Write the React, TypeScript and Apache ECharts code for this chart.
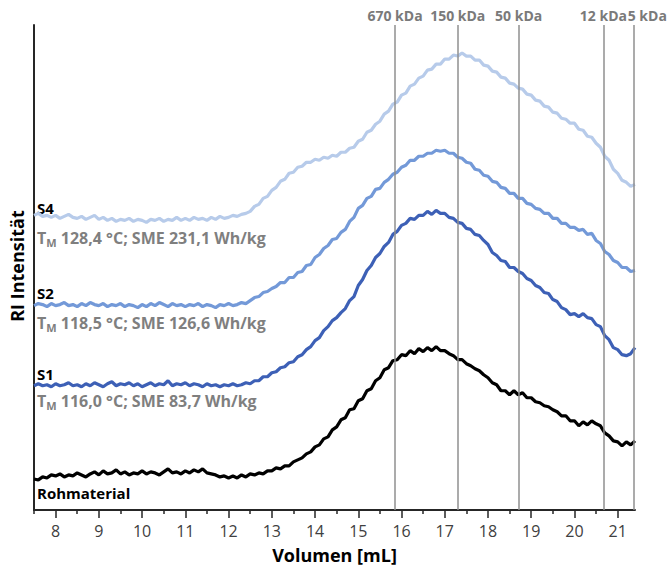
import { useEffect, useRef } from "react";
import * as echarts from "echarts";

// Elution volume grid of the detector traces (mL)
const VOLUME_START = 7.5;
const VOLUME_STEP = 0.1;

// RI detector signal (arbitrary units, traces stacked with offsets), one row = 1 mL
const ROHMATERIAL = [
  3.1, 3.0, 3.3, 3.2, 3.5, 3.4, 3.6, 3.3, 3.5, 3.4,
  3.7, 3.5, 3.3, 3.6, 3.8, 3.5, 3.9, 3.6, 3.7, 4.0,
  3.6, 3.8, 3.5, 3.7, 3.6, 3.9, 3.6, 3.8, 3.7, 3.5,
  3.8, 4.1, 3.7, 3.8, 3.6, 3.9, 3.7, 4.0, 3.8, 4.1,
  3.7, 3.6, 3.5, 3.3, 3.4, 3.2, 3.4, 3.2, 3.5, 3.3,
  3.6, 3.5, 3.7, 3.6, 3.9, 3.9, 4.2, 4.1, 4.4, 4.4,
  4.8, 5.0, 5.2, 5.6, 5.8, 6.3, 6.5, 7.1, 7.3, 8.0,
  8.3, 9.0, 9.2, 10.0, 10.1, 10.9, 11.1, 11.9, 12.1, 12.9,
  13.2, 14.0, 14.2, 14.9, 15.0, 15.5, 15.4, 15.9, 15.6, 16.1,
  15.8, 16.2, 15.9, 16.3, 15.9, 15.9, 15.6, 15.4, 15.0, 15.0,
  14.6, 14.4, 14.1, 13.9, 13.5, 13.2, 12.7, 12.5, 11.9, 11.9,
  11.5, 11.9, 11.5, 11.7, 11.2, 11.2, 10.8, 10.7, 10.4, 10.3,
  10.0, 9.8, 9.4, 9.4, 8.9, 8.9, 8.4, 8.8, 8.5, 8.9,
  8.6, 8.4, 7.7, 7.4, 6.9, 6.8, 6.4, 6.8, 6.5, 6.9,
];

const S1 = [
  12.4, 12.6, 12.4, 12.5, 12.3, 12.6, 12.4, 12.5, 12.7, 12.4,
  12.5, 12.3, 12.6, 12.4, 12.7, 12.5, 12.3, 12.6, 12.8, 12.4,
  12.6, 12.5, 12.7, 12.4, 12.6, 12.3, 12.5, 12.7, 12.4, 12.6,
  12.5, 12.9, 12.4, 12.6, 12.5, 12.7, 12.4, 12.6, 12.5, 12.3,
  12.6, 12.4, 12.5, 12.3, 12.5, 12.4, 12.6, 12.4, 12.5, 12.7,
  12.6, 12.9, 12.9, 13.3, 13.3, 13.7, 13.8, 14.2, 14.3, 14.7,
  14.8, 15.3, 15.5, 16.0, 16.3, 16.9, 17.2, 17.9, 18.3, 18.9,
  19.2, 19.7, 20.1, 20.9, 21.3, 22.4, 23.0, 23.9, 24.4, 25.2,
  25.6, 26.3, 26.7, 27.5, 27.8, 28.4, 28.6, 29.1, 29.0, 29.4,
  29.4, 29.8, 29.5, 29.9, 29.6, 29.6, 29.2, 29.1, 28.7, 28.6,
  28.1, 28.0, 27.5, 27.4, 26.9, 26.5, 25.7, 25.4, 24.9, 24.8,
  24.2, 24.2, 23.8, 23.6, 23.1, 22.9, 22.4, 22.2, 21.7, 21.6,
  21.0, 20.8, 20.2, 20.0, 19.5, 19.6, 19.3, 19.6, 19.2, 19.1,
  18.5, 18.3, 17.4, 17.0, 16.2, 16.0, 15.5, 15.4, 15.6, 16.2,
];

const S2 = [
  20.4, 20.6, 20.5, 20.3, 20.6, 20.4, 20.5, 20.7, 20.4, 20.5,
  20.3, 20.6, 20.4, 20.7, 20.5, 20.4, 20.6, 20.3, 20.5, 20.4,
  20.6, 20.3, 20.5, 20.4, 20.2, 20.5, 20.3, 20.6, 20.4, 20.7,
  20.5, 20.3, 20.6, 20.4, 20.5, 20.3, 20.5, 20.4, 20.6, 20.3,
  20.5, 20.4, 20.2, 20.5, 20.4, 20.6, 20.4, 20.5, 20.7, 20.6,
  20.9, 21.2, 21.3, 21.7, 21.8, 22.1, 22.3, 22.7, 22.7, 23.2,
  23.2, 23.7, 23.8, 24.4, 24.5, 25.2, 25.5, 26.1, 26.4, 27.0,
  27.1, 27.7, 28.0, 28.8, 29.2, 30.1, 30.4, 31.1, 31.3, 32.0,
  32.1, 32.7, 33.0, 33.5, 33.7, 34.2, 34.4, 34.9, 34.9, 35.3,
  35.3, 35.6, 35.6, 35.9, 35.8, 35.9, 35.6, 35.6, 35.2, 35.1,
  34.7, 34.6, 34.0, 33.9, 33.4, 33.3, 32.8, 32.7, 32.2, 32.1,
  31.6, 31.6, 31.1, 31.1, 30.6, 30.5, 30.1, 30.0, 29.6, 29.6,
  29.1, 29.1, 28.6, 28.6, 28.2, 28.2, 27.9, 28.0, 27.5, 27.6,
  26.9, 26.6, 25.8, 25.5, 24.9, 24.7, 24.2, 24.2, 23.8, 23.9,
];

const S4 = [
  29.4, 29.6, 29.3, 29.4, 29.2, 29.4, 29.1, 29.3, 29.5, 29.2,
  29.1, 29.3, 29.0, 29.2, 29.4, 29.0, 29.2, 28.9, 29.1, 28.8,
  29.0, 28.9, 29.1, 28.8, 29.0, 28.9, 28.7, 29.0, 28.9, 29.1,
  28.8, 29.0, 28.9, 29.2, 28.9, 29.1, 28.9, 29.2, 29.0, 29.1,
  28.9, 29.2, 29.0, 29.3, 29.1, 29.2, 29.4, 29.3, 29.5, 29.6,
  29.8, 30.3, 30.5, 31.1, 31.3, 31.9, 32.2, 32.8, 33.0, 33.6,
  33.7, 34.2, 34.3, 34.7, 34.7, 35.0, 34.9, 35.2, 35.1, 35.4,
  35.3, 35.7, 35.7, 36.1, 36.2, 36.8, 37.0, 37.7, 37.9, 38.5,
  38.8, 39.5, 39.8, 40.5, 40.7, 41.4, 41.6, 42.3, 42.5, 43.1,
  43.3, 43.9, 44.0, 44.5, 44.5, 45.0, 45.0, 45.4, 45.3, 45.6,
  45.3, 45.3, 44.9, 44.9, 44.4, 44.3, 43.8, 43.7, 43.2, 43.1,
  42.6, 42.5, 42.1, 42.0, 41.5, 41.4, 40.9, 40.8, 40.3, 40.2,
  39.7, 39.6, 39.1, 39.0, 38.6, 38.6, 38.0, 37.9, 37.3, 37.2,
  36.6, 36.2, 35.3, 34.9, 34.0, 33.6, 32.9, 32.7, 32.3, 32.5,
];

// Calibration markers (elution volume of protein standards)
const MARKER_VOLUMES = [15.85, 17.3, 18.71, 20.67, 21.36];
const MARKER_LABELS = ["670 kDa", "150 kDa", "50 kDa", "12 kDa", "5 kDa"];

// Axis ticks
const MAJOR_TICKS = [8, 9, 10, 11, 12, 13, 14, 15, 16, 17, 18, 19, 20, 21];
const MINOR_TICKS = [7.5, 8.5, 9.5, 10.5, 11.5, 12.5, 13.5, 14.5, 15.5, 16.5, 17.5, 18.5, 19.5, 20.5];

// Trace names and extrusion conditions
const SAMPLE_NAMES = ["S4", "S2", "S1", "Rohmaterial"];
const MELT_TEMPS = ["128,4", "118,5", "116,0"];
const SME_VALUES = ["231,1", "126,6", "83,7"];

const COLORS = {
  Rohmaterial: "#000000",
  S1: "#3d60b6",
  S2: "#7399d8",
  S4: "#b7cbea",
};

const FONT = '"Open Sans", "Noto Sans", sans-serif';
const AXIS_COLOR = "#262626";

const VOLUMES = ROHMATERIAL.map((_, i) => +(VOLUME_START + i * VOLUME_STEP).toFixed(1));
const toPoints = (values: number[]) => values.map((v, i) => [VOLUMES[i], v]);

// label placement (px) for trace names and condition lines
const NAME_Y = [208, 293, 374, 493];
const COND_Y = [238, 323, 401];

export default function App() {
  const ref = useRef<HTMLDivElement>(null);

  useEffect(() => {
    if (!ref.current) return;
    document.body.style.margin = "0";
    const chart = echarts.init(ref.current, undefined, { renderer: "svg" });

    const traceSeries = [
      { name: "Rohmaterial", data: ROHMATERIAL },
      { name: "S1", data: S1 },
      { name: "S2", data: S2 },
      { name: "S4", data: S4 },
    ].map((s, idx) => ({
      type: "line",
      name: s.name,
      xAxisIndex: 0,
      yAxisIndex: 0,
      data: toPoints(s.data),
      showSymbol: false,
      symbol: "none",
      silent: true,
      z: 3,
      lineStyle: { color: (COLORS as any)[s.name], width: 3.2 },
      markLine:
        idx === 0
          ? {
              silent: true,
              symbol: ["none", "none"],
              z: 5,
              lineStyle: { color: "#8f8f8f", width: 1.5, type: "solid" },
              label: {
                show: true,
                position: "end",
                distance: 3,
                formatter: "{b}",
                color: "#7a7a7a",
                fontFamily: FONT,
                fontWeight: "bold",
                fontSize: 14,
              },
              data: MARKER_VOLUMES.map((v, i) => ({
                xAxis: v,
                name: MARKER_LABELS[i],
                label: i === MARKER_VOLUMES.length - 1 ? { offset: [14, 0] } : undefined,
              })),
            }
          : undefined,
    }));

    const graphics: any[] = [];
    SAMPLE_NAMES.forEach((name, i) => {
      graphics.push({
        type: "text",
        x: 37,
        y: NAME_Y[i],
        silent: true,
        style: {
          text: name,
          fill: "#000",
          font: `bold 15px ${FONT}`,
          verticalAlign: "middle",
        },
      });
    });
    MELT_TEMPS.forEach((tm, i) => {
      graphics.push({
        type: "text",
        x: 37,
        y: COND_Y[i],
        silent: true,
        style: {
          text: `{t|T}{m|M}{t| ${tm} °C; SME ${SME_VALUES[i]} Wh/kg}`,
          verticalAlign: "middle",
          rich: {
            t: { fill: "#7f7f7f", fontFamily: FONT, fontWeight: "bold", fontSize: 16, lineHeight: 19 },
            m: { fill: "#7f7f7f", fontFamily: FONT, fontWeight: "bold", fontSize: 11, lineHeight: 19, verticalAlign: "bottom" },
          },
        },
      });
    });
    graphics.push({
      type: "text",
      x: 17,
      y: 266,
      rotation: Math.PI / 2,
      silent: true,
      style: {
        text: "RI Intensität",
        fill: "#000",
        font: `bold 18px ${FONT}`,
        align: "center",
        verticalAlign: "middle",
      },
    });

    chart.setOption({
      animation: false,
      backgroundColor: "#ffffff",
      grid: { left: 34, right: 33, top: 25, bottom: 64 },
      xAxis: [
        {
          type: "value",
          position: "bottom",
          min: 7.5,
          max: 21.4,
          name: "Volumen [mL]",
          nameLocation: "middle",
          nameGap: 36,
          nameTextStyle: { color: "#000", fontFamily: FONT, fontWeight: "bold", fontSize: 18 },
          axisLine: { show: true, onZero: false, lineStyle: { color: AXIS_COLOR, width: 2 } },
          axisTick: { show: true, customValues: MAJOR_TICKS, length: 8, lineStyle: { color: AXIS_COLOR, width: 1.5 } },
          axisLabel: { customValues: MAJOR_TICKS, margin: 13, color: "#404040", fontFamily: FONT, fontSize: 16 },
          splitLine: { show: false },
        },
        {
          type: "value",
          position: "bottom",
          min: 7.5,
          max: 21.4,
          axisLine: { show: false },
          axisTick: { show: true, customValues: MINOR_TICKS, length: 4, lineStyle: { color: AXIS_COLOR, width: 1.5 } },
          axisLabel: { show: false },
          splitLine: { show: false },
        },
      ],
      yAxis: {
        type: "value",
        min: 0,
        max: 48.4,
        axisLine: { show: true, onZero: false, lineStyle: { color: AXIS_COLOR, width: 2 } },
        axisTick: { show: false },
        axisLabel: { show: false },
        splitLine: { show: false },
      },
      graphic: graphics,
      series: traceSeries,
    });

    return () => chart.dispose();
  }, []);

  return (
    <div
      ref={ref}
      style={{ position: "fixed", left: 0, top: 0, width: 668, height: 574, background: "#fff" }}
    />
  );
}
